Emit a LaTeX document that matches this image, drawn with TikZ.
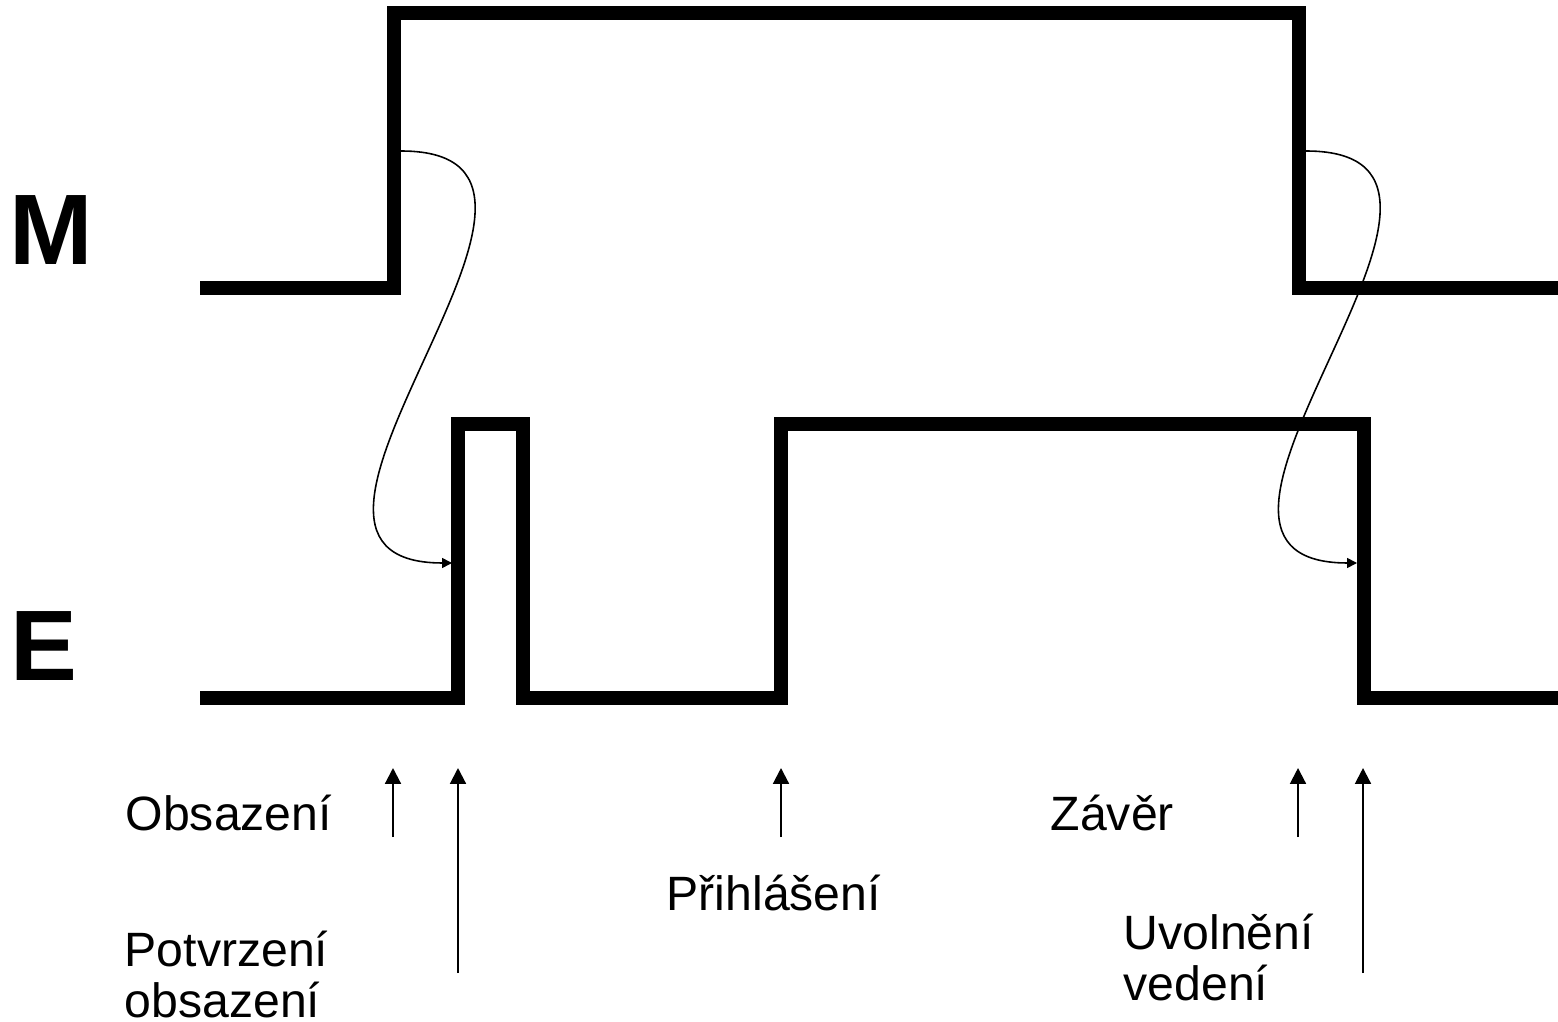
\documentclass[tikz,border=0pt]{standalone}
\usepackage{fontspec}
\setmainfont{Liberation Sans}
\usetikzlibrary{arrows.meta}
\tikzstyle{signal} = [line width=4pt, line join=miter]
\tikzstyle{causal} = [line width=0.45pt, -{Triangle[length=2.8pt,width=2.8pt]}]
\tikzstyle{event} = [line width=0.6pt, -{Triangle[length=4.5pt,width=4.5pt]}]
\tikzstyle{sigLbl} = [anchor=base west, inner sep=0pt, font=\fontsize{28.5}{30}\selectfont\bfseries]
\tikzstyle{eventLbl} = [anchor=base west, inner sep=0pt, align=left, font=\fontsize{13.7}{14.5}\selectfont]

\begin{document}
\begin{tikzpicture}[x=0.01cm, y=-0.01cm]
        \useasboundingbox (0,0) rectangle (1558,1022);
        % signal names
        \node (lblM) [sigLbl] at (9,265) {M};
        \node (lblE) [sigLbl] at (10,680) {E};

        % signals
        \draw [signal] (200,288) -- (394,288) -- (394,13) -- (1299,13) -- (1299,288) -- (1558,288);
        \draw [signal] (200,698) -- (458,698) -- (458,424) -- (523,424) -- (523,698)
              -- (781,698) -- (781,424) -- (1364,424) -- (1364,698) -- (1558,698);

        % M edge causes E edge
        \coordinate (mRise) at (401,151);
        \coordinate (eRise) at (452,563);
        \coordinate (mFall) at (1306,151);
        \coordinate (eFall) at (1357,563);
        \draw [causal] (mRise) .. controls +(235,0) and +(-235,0) .. (eRise);
        \draw [causal] (mFall) .. controls +(235,0) and +(-235,0) .. (eFall);

        % events
        \node (obs) [eventLbl] at (125,830) {Obsazení};
        \node (potv) [eventLbl] at (124,1017) {Potvrzení\\obsazení};
        \node (prihl) [eventLbl] at (666,910) {Přihlášení};
        \node (zav) [eventLbl] at (1050,830) {Závěr};
        \node (uvol) [eventLbl] at (1123,1000) {Uvolnění\\vedení};

        \coordinate (obsTop) at (393,768);
        \coordinate (obsBot) at (393,837);
        \coordinate (potvTop) at (458,768);
        \coordinate (potvBot) at (458,973);
        \coordinate (prihlTop) at (781,768);
        \coordinate (prihlBot) at (781,837);
        \coordinate (zavTop) at (1298,768);
        \coordinate (zavBot) at (1298,837);
        \coordinate (uvolTop) at (1363,768);
        \coordinate (uvolBot) at (1363,973);
        \foreach \ev in {obs,potv,prihl,zav,uvol}
            \draw [event] (\ev Bot) -- (\ev Top);
\end{tikzpicture}
\end{document}
